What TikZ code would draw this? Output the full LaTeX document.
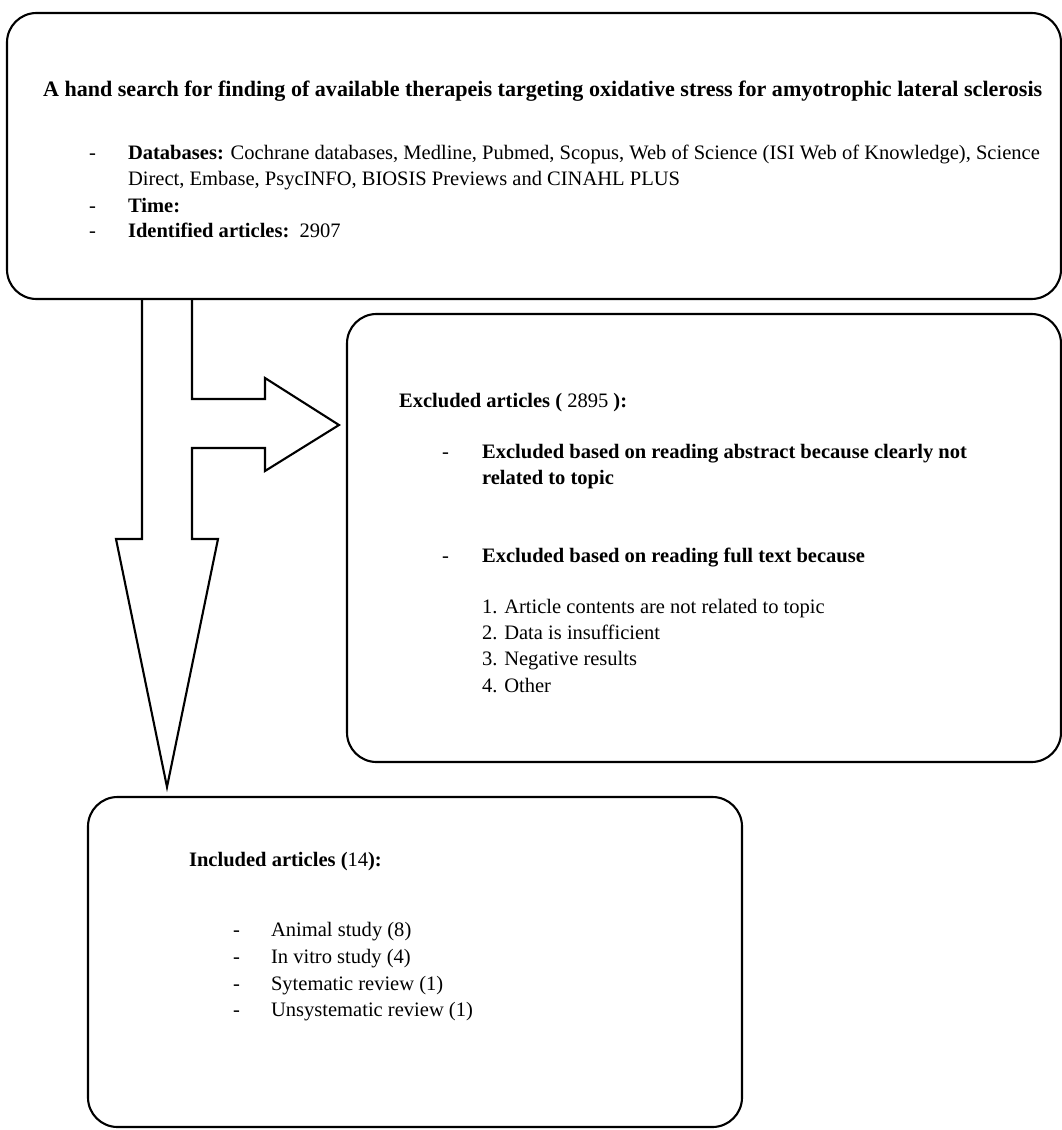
\documentclass[tikz,border=0pt]{standalone}
\usepackage{fontspec}
\setmainfont{Liberation Serif}
\usetikzlibrary{fit}
\tikzset{
  every picture/.style={line width=1.5pt},
  box/.style={draw=black, rounded corners=21pt, inner sep=0pt},
  outline/.style={draw=black, line join=miter},
  txt/.style={anchor=base west, inner sep=0pt, font=\fontsize{14.6}{17}\selectfont},
}
\begin{document}
\begin{tikzpicture}[x=0.025cm, y=-0.025cm]
  \useasboundingbox (0,0) rectangle (1062,1130);
  % the search at the top
  \node[box, fit={(7,13) (1061,299)}] (search) {};
  \node[txt, font=\bfseries\fontsize{15.7}{17}\selectfont] (title) at (42,97) {A hand search for finding of available therapeis targeting oxidative stress for amyotrophic lateral sclerosis};
  \node[txt] (sb1) at (88,159) {-};
  \node[txt] (db) at (127,159) {\textbf{Databases:} Cochrane databases, Medline, Pubmed, Scopus, Web of Science (ISI Web of Knowledge), Science};
  \node[txt] (dbb) at (127,185) {Direct, Embase, PsycINFO, BIOSIS Previews and CINAHL PLUS};
  \node[txt] (sb2) at (88,212) {-};
  \node[txt] (time) at (127,212) {\textbf{Time:}};
  \node[txt] (sb3) at (88,237) {-};
  \node[txt] (ident) at (127,237) {\textbf{Identified articles:}\ \ 2907};
  % excluded articles
  \node[box, fit={(347,314) (1061,762)}] (excl) {};
  \node[txt] (exhead) at (398,407) {\textbf{Excluded articles (} 2895 \textbf{):}};
  \node[txt] (eb1) at (441,458) {-};
  \node[txt] (ex1) at (481,458) {\textbf{Excluded based on reading abstract because clearly not}};
  \node[txt] (ex1b) at (481,484) {\textbf{related\ to topic}};
  \node[txt] (eb2) at (441,562) {-};
  \node[txt] (ex2) at (481,562) {\textbf{Excluded based on reading full text because}};
  \node[txt] (r1) at (481,613) {1. Article contents are not related to topic};
  \node[txt] (r2) at (481,639) {2. Data is insufficient};
  \node[txt] (r3) at (481,665) {3. Negative results};
  \node[txt] (r4) at (481,692) {4. Other};
  % included articles
  \node[box, fit={(88,797) (742,1127)}] (incl) {};
  \node[txt] (inhead) at (188,866) {\textbf{Included articles (}14\textbf{):}};
  \node[txt] (ib1) at (232,936) {-};
  \node[txt] (in1) at (270,936) {Animal study (8)};
  \node[txt] (ib2) at (232,963) {-};
  \node[txt] (in2) at (270,963) {In vitro study (4)};
  \node[txt] (ib3) at (232,990) {-};
  \node[txt] (in3) at (270,990) {Sytematic review (1)};
  \node[txt] (ib4) at (232,1016) {-};
  \node[txt] (in4) at (270,1016) {Unsystematic review (1)};
  % block arrow, down to the included and right to the excluded
  \draw[outline] (142,299) -- (142,539) -- (116,539) -- (167,787) -- (218,539) -- (192,539)
    -- (192,448) -- (265,448) -- (265,471) -- (339,425) -- (265,378) -- (265,399)
    -- (192,399) -- (192,299);
\end{tikzpicture}
\end{document}
